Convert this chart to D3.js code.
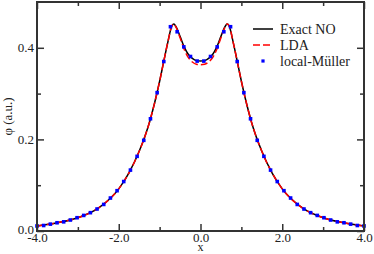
<!DOCTYPE html>
<html>
<head>
<meta charset="utf-8">
<script src="https://cdn.jsdelivr.net/npm/d3@7"></script>
<style>
  body { margin: 0; background: #fff; }
  svg { display: block; }
  svg text { font-family: "Liberation Serif", "Times New Roman", serif; }
</style>
</head>
<body>
<svg id="chart" width="374" height="254"></svg>
<script>
// curves
const lineX = [-4, -3.5, -3, -2.5, -2, -1.75, -1.5, -1.25, -1, -0.9, -0.8, -0.7, -0.65, -0.6, -0.5, -0.4, -0.3, -0.2, -0.1, 0,
  0.1, 0.2, 0.3, 0.4, 0.5, 0.6, 0.65, 0.7, 0.8, 0.9, 1, 1.25, 1.5, 1.75, 2, 2.5, 3, 3.5, 4];
const exactY = [0.011, 0.018, 0.029, 0.050, 0.092, 0.127, 0.174, 0.237, 0.327, 0.370, 0.412, 0.448, 0.452, 0.446, 0.425, 0.402, 0.386, 0.377, 0.372, 0.371,
  0.372, 0.377, 0.386, 0.402, 0.425, 0.446, 0.452, 0.448, 0.412, 0.370, 0.327, 0.237, 0.174, 0.127, 0.092, 0.050, 0.029, 0.018, 0.011];
const ldaY = [0.011, 0.018, 0.029, 0.050, 0.092, 0.127, 0.174, 0.237, 0.327, 0.370, 0.412, 0.448, 0.452, 0.445, 0.422, 0.397, 0.379, 0.369, 0.364, 0.363,
  0.364, 0.369, 0.379, 0.397, 0.422, 0.445, 0.452, 0.448, 0.412, 0.370, 0.327, 0.237, 0.174, 0.127, 0.092, 0.050, 0.029, 0.018, 0.011];

const mullerX = [-4.000, -3.837, -3.673, -3.510, -3.347, -3.184, -3.020, -2.857, -2.694, -2.531, -2.367, -2.204, -2.041, -1.878, -1.714, -1.551, -1.388, -1.224, -1.061, -0.898, -0.735, -0.571, -0.408, -0.245, -0.082,
  0.082, 0.245, 0.408, 0.571, 0.735, 0.898, 1.061, 1.224, 1.388, 1.551, 1.714, 1.878, 2.041, 2.204, 2.367, 2.531, 2.694, 2.857, 3.020, 3.184, 3.347, 3.510, 3.673, 3.837, 4.000];
const mullerY = [0.011, 0.012, 0.015, 0.018, 0.020, 0.024, 0.029, 0.034, 0.040, 0.048, 0.058, 0.072, 0.088, 0.108, 0.133, 0.163, 0.198, 0.245, 0.302, 0.370, 0.446, 0.435, 0.402, 0.381, 0.371,
  0.371, 0.381, 0.402, 0.435, 0.446, 0.370, 0.302, 0.245, 0.198, 0.163, 0.133, 0.108, 0.088, 0.072, 0.058, 0.048, 0.040, 0.034, 0.029, 0.024, 0.020, 0.018, 0.015, 0.012, 0.011];

const xMajor = [-4, -2, 0, 2, 4];
const xMinor = [-3, -1, 1, 3];
const yMajor = [0, 0.2, 0.4];
const yMinor = [0.1, 0.3];

const legendLabels = ["Exact NO", "LDA", "local-Müller"];

const FONT = "Liberation Serif, Times New Roman, serif";
const margin = { left: 37, right: 10, top: 2, bottom: 23 };
const W = 374, H = 254;
const x = d3.scaleLinear().domain([-4, 4]).range([margin.left, W - margin.right]);
const y = d3.scaleLinear().domain([0, 0.5]).range([H - margin.bottom, margin.top]);

const svg = d3.select("#chart");
const fmt = (d) => d.toFixed(1);
const AX = "#333";

const plot = svg.append("g");
const line = (ys) => d3.line().x((d, i) => x(lineX[i])).y((d) => y(d)).curve(d3.curveMonotoneX)(ys);

plot.append("path").attr("d", line(exactY)).attr("fill", "none").attr("stroke", "#000").attr("stroke-width", 1.5);
plot.append("path").attr("d", line(ldaY)).attr("fill", "none").attr("stroke", "#ff0000")
  .attr("stroke-width", 1.5).attr("stroke-dasharray", "7,3");
plot.selectAll("rect.mk").data(mullerY).join("rect")
  .attr("class", "mk")
  .attr("x", (d, i) => x(mullerX[i]) - 1.8)
  .attr("y", (d) => y(d) - 1.8)
  .attr("width", 3.6).attr("height", 3.6)
  .attr("fill", "#0000ff");

function styleAxis(g) {
  g.select(".domain").remove();
  g.selectAll("line").attr("stroke", AX).attr("stroke-width", 1.5);
  g.selectAll("text").attr("font-size", 13).attr("fill", "#222").attr("font-family", FONT);
}

const yBot = H - margin.bottom, yTop = margin.top, xLeft = margin.left, xRight = W - margin.right;

svg.append("g").attr("transform", `translate(0,${yBot})`)
  .call(d3.axisBottom(x).tickValues(xMajor).tickFormat(fmt).tickSize(-7).tickPadding(2)).call(styleAxis);
svg.append("g").attr("transform", `translate(0,${yBot})`)
  .call(d3.axisBottom(x).tickValues(xMinor).tickFormat("").tickSize(-4)).call(styleAxis);
svg.append("g").attr("transform", `translate(0,${yTop})`)
  .call(d3.axisTop(x).tickValues(xMajor).tickFormat("").tickSize(-7)).call(styleAxis);
svg.append("g").attr("transform", `translate(0,${yTop})`)
  .call(d3.axisTop(x).tickValues(xMinor).tickFormat("").tickSize(-4)).call(styleAxis);

const yAxisG = svg.append("g").attr("transform", `translate(${xLeft},0)`)
  .call(d3.axisLeft(y).tickValues(yMajor).tickFormat(fmt).tickSize(-7).tickPadding(3)).call(styleAxis);
// lift the 0.0 label slightly so it clears -4.0
yAxisG.selectAll("text").filter((d) => d === 0).attr("dy", "0.2em");
svg.append("g").attr("transform", `translate(${xLeft},0)`)
  .call(d3.axisLeft(y).tickValues(yMinor).tickFormat("").tickSize(-4)).call(styleAxis);
svg.append("g").attr("transform", `translate(${xRight},0)`)
  .call(d3.axisRight(y).tickValues(yMajor).tickFormat("").tickSize(-7)).call(styleAxis);
svg.append("g").attr("transform", `translate(${xRight},0)`)
  .call(d3.axisRight(y).tickValues(yMinor).tickFormat("").tickSize(-4)).call(styleAxis);

svg.append("rect")
  .attr("x", xLeft).attr("y", yTop).attr("width", xRight - xLeft).attr("height", yBot - yTop)
  .attr("fill", "none").attr("stroke", AX).attr("stroke-width", 2);

svg.append("text")
  .attr("x", (xLeft + xRight) / 2).attr("y", 251)
  .attr("text-anchor", "middle").attr("font-size", 12).attr("fill", "#222").attr("font-family", FONT)
  .text("x");
svg.append("text")
  .attr("transform", `translate(12,${y(0.25)}) rotate(-90)`)
  .attr("text-anchor", "middle").attr("font-size", 13).attr("fill", "#222").attr("font-family", FONT)
  .text("φ (a.u.)");

// legend
const lg = svg.append("g").attr("transform", "translate(253,29)");
const rowH = 16;
lg.append("line").attr("x1", 0).attr("x2", 20).attr("y1", 0).attr("y2", 0)
  .attr("stroke", "#000").attr("stroke-width", 1.5);
lg.append("line").attr("x1", 0).attr("x2", 20).attr("y1", rowH).attr("y2", rowH)
  .attr("stroke", "#ff0000").attr("stroke-width", 1.5).attr("stroke-dasharray", "7,3");
lg.append("rect").attr("x", 10 - 1.6).attr("y", rowH * 2 - 1.6).attr("width", 3.2).attr("height", 3.2)
  .attr("fill", "#0000ff");
lg.selectAll("text.lab").data(legendLabels).join("text")
  .attr("class", "lab")
  .attr("x", 27).attr("y", (d, i) => i * rowH)
  .attr("dy", "0.35em")
  .attr("font-size", 14).attr("fill", "#222").attr("font-family", FONT)
  .text((d) => d);
</script>
</body>
</html>
